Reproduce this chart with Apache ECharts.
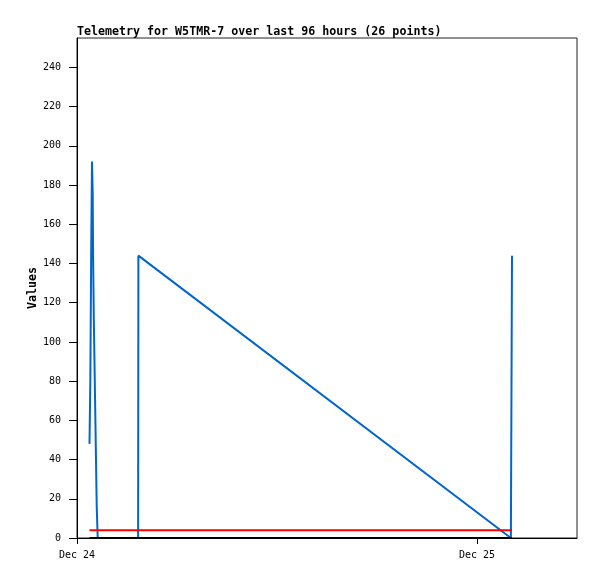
<!DOCTYPE html>
<html>
<head>
<meta charset="utf-8">
<script src="https://cdn.jsdelivr.net/npm/echarts@6/dist/echarts.min.js"></script>
<style>
html,body{margin:0;padding:0;background:#fff;}
#chart{width:597px;height:579px;}
</style>
</head>
<body>
<div id="chart"></div>
<script>
// ---- data ----
var titleText = 'Telemetry for W5TMR-7 over last 96 hours (26 points)';
var yAxisName = 'Values';
var times = [
  '2024-12-24T00:45:00', '2024-12-24T00:48:00', '2024-12-24T00:51:00',
  '2024-12-24T00:54:00', '2024-12-24T00:56:30', '2024-12-24T00:58:00',
  '2024-12-24T01:00:30', '2024-12-24T01:04:00', '2024-12-24T01:07:30',
  '2024-12-24T01:11:00', '2024-12-24T01:14:30', '2024-12-24T03:40:00',
  '2024-12-24T03:41:00', '2024-12-25T02:02:00', '2024-12-25T02:06:00'
];
var blueValues  = [48, 80, 144, 192, 176, 144, 112, 80, 48, 16, 0, 0, 144, 0, 144];
var redValues   = [4, 4, 4, 4, 4, 4, 4, 4, 4, 4, 4, 4, 4, 4, 4];
var blackValues = [0, 0, 0, 0, 0, 0, 0, 0, 0, 0, 0, 0, 0, 0, 0];
var xMin = '2024-12-24T00:00:00';
var xMax = '2024-12-25T06:00:00';
var xTickTimes  = ['2024-12-24T00:00:00', '2024-12-25T00:00:00'];
var xTickLabels = ['Dec 24', 'Dec 25'];
var yMin = 0, yMax = 255;
var yTicks = [0, 20, 40, 60, 80, 100, 120, 140, 160, 180, 200, 220, 240];

function ts(s){ return new Date(s).getTime(); }
function pairs(vals){ return times.map(function(t,i){ return [ts(t), vals[i]]; }); }
var xTickTs = xTickTimes.map(ts);

var font = 'DejaVu Sans Mono';
var chart = echarts.init(document.getElementById('chart'), null, {renderer:'canvas'});
chart.setOption({
  animation: false,
  backgroundColor: '#fff',
  title: {
    text: titleText, left: 77, top: 26, padding: 0,
    textStyle: {fontFamily: font, fontSize: 11.65, fontWeight: 'bold', color: '#000'}
  },
  grid: {
    left: 77, right: 20, top: 38, bottom: 41,
    show: true, borderColor: '#222', borderWidth: 1, backgroundColor: 'transparent'
  },
  xAxis: {
    type: 'value', min: ts(xMin), max: ts(xMax), scale: true,
    axisLine: {show: true, onZero: false, lineStyle: {color: '#000', width: 1}},
    axisTick: {show: true, length: 6, lineStyle: {color: '#000'}, customValues: xTickTs},
    axisLabel: {
      customValues: xTickTs, margin: 12, fontFamily: font, fontSize: 10, color: '#000',
      formatter: function(v){ var i = xTickTs.indexOf(v); return i >= 0 ? xTickLabels[i] : ''; }
    },
    splitLine: {show: false}
  },
  yAxis: {
    type: 'value', min: yMin, max: yMax,
    name: yAxisName, nameLocation: 'middle', nameGap: 38, nameRotate: 90, nameMoveOverlap: false,
    nameTextStyle: {fontFamily: font, fontSize: 11.65, fontWeight: 'bold', color: '#000'},
    axisLine: {show: true, lineStyle: {color: '#000', width: 1}},
    axisTick: {show: true, length: 8, lineStyle: {color: '#000'}, customValues: yTicks},
    axisLabel: {customValues: yTicks, margin: 16, fontFamily: font, fontSize: 10, color: '#000'},
    splitLine: {show: false}
  },
  series: [
    {type: 'line', data: pairs(blueValues), showSymbol: false, lineStyle: {color: '#0066cc', width: 2}, z: 2},
    {type: 'line', data: pairs(redValues), showSymbol: false, lineStyle: {color: '#ff0000', width: 2}, z: 3},
    {type: 'line', data: pairs(blackValues), showSymbol: false, lineStyle: {color: '#000000', width: 2}, z: 4}
  ]
});
</script>
</body>
</html>
